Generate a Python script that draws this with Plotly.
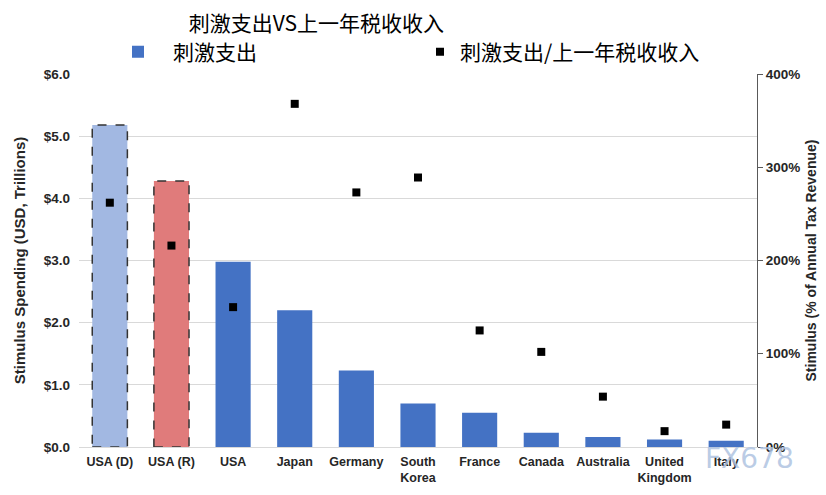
import plotly.graph_objects as go

categories = ["USA (D)", "USA (R)", "USA", "Japan", "Germany", "South<br>Korea",
              "France", "Canada", "Australia", "United<br>Kingdom", "Italy"]
spending = [5.18, 4.28, 2.98, 2.2, 1.23, 0.7, 0.55, 0.23, 0.16, 0.12, 0.1]
pct_revenue = [262, 216, 150, 368, 273, 289, 125, 102, 54, 17, 24]
scenario_idx = [0, 1]
scenario_colors = ["#A2B8E2", "#E07B7B"]
main_color = "#4472C4"

BAR_W = 0.57
main_idx = [i for i in range(len(categories)) if i not in scenario_idx]

fig = go.Figure()
fig.add_trace(go.Bar(
    x=[categories[i] for i in main_idx], y=[spending[i] for i in main_idx],
    name="刺激支出", width=BAR_W, marker=dict(color=main_color, line=dict(width=0)),
    yaxis="y", legend="legend",
))
fig.add_trace(go.Bar(
    x=[categories[i] for i in scenario_idx], y=[spending[i] for i in scenario_idx],
    name="刺激支出", width=BAR_W, showlegend=False,
    marker=dict(color=scenario_colors, line=dict(width=0)), yaxis="y",
))
fig.add_trace(go.Scatter(
    x=categories, y=pct_revenue, name="刺激支出/上一年税收收入", mode="markers",
    marker=dict(symbol="square", size=8, color="black"),
    yaxis="y2", legend="legend2",
))

shapes = []
for i in scenario_idx:
    shapes.append(dict(type="rect", xref="x", yref="y",
                       x0=i - BAR_W / 2, x1=i + BAR_W / 2, y0=0, y1=spending[i],
                       line=dict(color="#333333", width=1.5, dash="dash"),
                       fillcolor="rgba(0,0,0,0)", layer="above"))

tick_font = dict(family="Liberation Sans, Arial", size=13.5, color="#262626")
leg_font = dict(family="Noto Sans CJK SC", size=21, color="black")

fig.update_layout(
    width=826, height=495,
    margin=dict(l=79, r=69, t=74, b=48, autoexpand=False),
    paper_bgcolor="white", plot_bgcolor="white",
    barmode="overlay",
    shapes=shapes,
    font=dict(family="Liberation Sans, Arial"),
    title=dict(text="刺激支出VS上一年税收收入", x=0.383, xanchor="center",
               y=1 - 24 / 495, yanchor="middle",
               font=dict(family="Noto Sans CJK SC", size=21, color="black")),
    legend=dict(x=(103 - 79) / 678, xanchor="left", y=(447 - 52) / 373, yanchor="middle",
                font=leg_font, bgcolor="rgba(0,0,0,0)", itemwidth=60),
    legend2=dict(x=(420 - 79) / 678, xanchor="left", y=(447 - 52) / 373, yanchor="middle",
                 font=leg_font, bgcolor="rgba(0,0,0,0)"),
    xaxis=dict(showline=True, linecolor="#d9d9d9", linewidth=1, ticks="",
               categoryorder="array", categoryarray=categories,
               range=[-0.5, len(categories) - 0.5],
               tickfont=dict(family="Liberation Sans, Arial", size=12.5, color="#262626"),
               tickprefix="<b>", ticksuffix="</b>", automargin=False, ticklabelstandoff=3),
    yaxis=dict(range=[0, 6], dtick=1, tickprefix="<b>$", ticksuffix="</b>", tickformat=".1f",
               showgrid=True, gridcolor="#d9d9d9", zeroline=False, automargin=False,
               tickfont=tick_font, ticklabelstandoff=8,
               title=dict(text="<b>Stimulus Spending (USD, Trillions)</b>",
                          font=dict(family="Liberation Sans, Arial", size=15, color="#262626"),
                          standoff=14)),
    yaxis2=dict(range=[0, 400], dtick=100, tickprefix="<b>", ticksuffix="%</b>",
                overlaying="y", side="right", automargin=False,
                showgrid=False, zeroline=False, showline=True, linecolor="#595959",
                ticks="outside", ticklen=5, tickcolor="#595959",
                tickfont=tick_font,
                title=dict(text="<b>Stimulus (% of Annual Tax Revenue)</b>",
                           font=dict(family="Liberation Sans, Arial", size=14, color="#262626"),
                           standoff=6)),
    annotations=[dict(text="FX678", xref="paper", yref="paper", x=1.058, y=-0.03,
                      xanchor="right", yanchor="middle", showarrow=False,
                      font=dict(family="DejaVu Sans", size=28, color="rgba(175,195,225,0.85)"))],
)

fig.write_html("out.html", config={"displayModeBar": False},
               post_script="document.body.style.margin='0';")
